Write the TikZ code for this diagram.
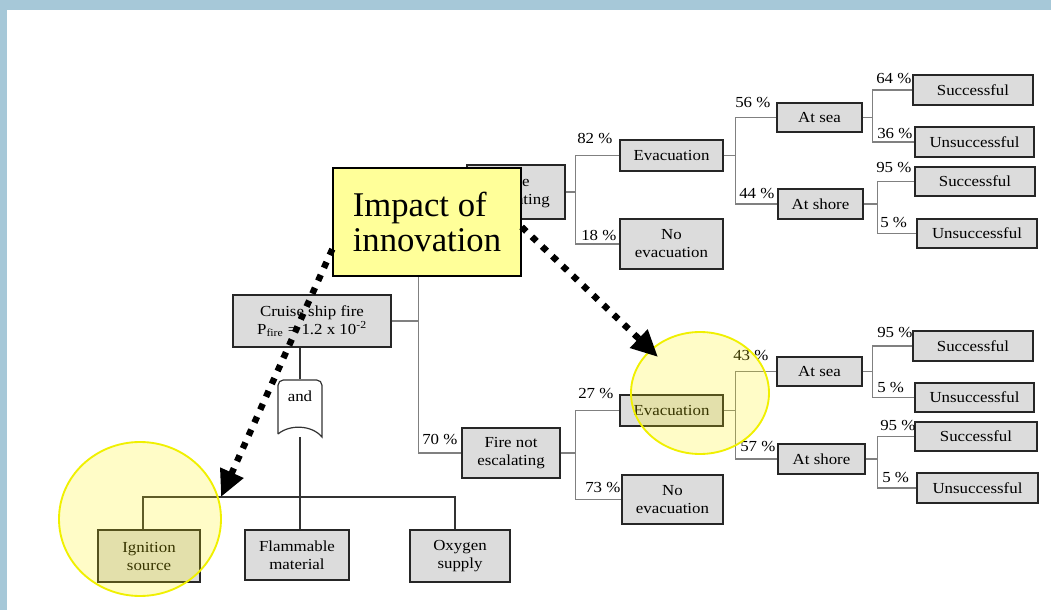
\documentclass[tikz,border=0pt]{standalone}
\usepackage{fontspec}
\setmainfont{Liberation Serif}
\newfontfamily\boxfont{Liberation Serif}[FakeStretch=1.1]
\usetikzlibrary{arrows.meta}

\definecolor{framebl}{HTML}{A6C8D8}
\definecolor{boxgray}{HTML}{DCDCDC}
\definecolor{notepad}{HTML}{FFFF99}
\definecolor{hilite}{HTML}{F0F000}
\definecolor{linkgray}{HTML}{808080}

\tikzset{
  sz/.style 2 args={minimum width={(#1)*0.75pt}, minimum height={(#2)*0.75pt}},
  box/.style={draw=black!85, line width=1.1pt, fill=boxgray, inner sep=0pt,
    align=center, font=\boxfont\fontsize{11.5}{13.5}\selectfont},
  pct/.style={anchor=base west, inner sep=0pt, font=\boxfont\fontsize{11.5}{13.5}\selectfont},
  link/.style={draw=linkgray, line width=0.9pt},
  gateline/.style={draw=black!80, line width=0.9pt},
  note/.style={draw=black, line width=1pt, fill=notepad, inner sep=0pt, align=left,
    font=\fontsize{26}{26.3}\selectfont},
  hl/.style={draw=hilite, line width=1.4pt, fill=yellow, fill opacity=0.22},
  pointer/.style={draw=black, line width=4.8pt, dash pattern=on 4.8pt off 5.8pt,
    -{Triangle[length=20pt,width=18pt]}}
}

\begin{document}
\begin{tikzpicture}[x=0.75pt,y=-0.75pt]
\useasboundingbox (0,0) rectangle (1051,610);
% page and frame
\fill[white] (0,0) rectangle (1051,610);
\fill[framebl] (0,0) rectangle (1051,10);
\fill[framebl] (0,0) rectangle (7,610);

% ---- event boxes ----
\node[box, sz={98}{54}]  (fesc) at (516,192) {Fire\\escalating};
\node[box, sz={98}{50}]  (fnot) at (511,453) {Fire not\\escalating};
\node[box, sz={158}{52}] (csf)  at (312,321) {Cruise ship fire\\P\textsubscript{fire} = 1.2 x 10\textsuperscript{-2}};
\node[box, sz={102}{52}] (ign)  at (149,556) {Ignition\\source};
\node[box, sz={104}{50}] (flam) at (297,555) {Flammable\\material};
\node[box, sz={100}{52}] (oxy)  at (460,556) {Oxygen\\supply};

% escalating branch
\node[box, sz={103}{31}] (ev1)    at (671.5,155.5) {Evacuation};
\node[box, sz={103}{50}] (noev1)  at (671.5,244)   {No\\evacuation};
\node[box, sz={85}{29}]  (sea1)   at (819.5,117.5) {At sea};
\node[box, sz={85}{30}]  (shore1) at (820.5,204)   {At shore};
\node[box, sz={120}{30}] (s11)    at (973,90)      {Successful};
\node[box, sz={119}{30}] (u11)    at (974.5,142)   {Unsuccessful};
\node[box, sz={120}{29}] (s12)    at (975,181.5)   {Successful};
\node[box, sz={120}{29}] (u12)    at (977,233.5)   {Unsuccessful};

% non-escalating branch
\node[box, sz={103}{31}] (ev2)    at (671.5,410.5) {Evacuation};
\node[box, sz={101}{49}] (noev2)  at (672.5,499.5) {No\\evacuation};
\node[box, sz={85}{29}]  (sea2)   at (819.5,371.5) {At sea};
\node[box, sz={87}{30}]  (shore2) at (821.5,459)   {At shore};
\node[box, sz={120}{30}] (s21)    at (973,346)     {Successful};
\node[box, sz={119}{29}] (u21)    at (974.5,397.5) {Unsuccessful};
\node[box, sz={122}{29}] (s22)    at (976,436.5)   {Successful};
\node[box, sz={121}{30}] (u22)    at (977.5,488)   {Unsuccessful};

% ---- event tree connectors ----
\draw[link] (csf.east) -- ++(27,0) coordinate (j0) |- (fesc.west);
\draw[link] (j0) |- (fnot.west);

\draw[link] (fesc.east) -- ++(10,0) coordinate (j1) |- (ev1.west);
\draw[link] (j1) |- (noev1.west);
\draw[link] (ev1.east) -- ++(12,0) coordinate (j2) |- (sea1.west);
\draw[link] (j2) |- (shore1.west);
\draw[link] (sea1.east) -- ++(10,0) coordinate (j3) |- (s11.west);
\draw[link] (j3) |- (u11.west);
\draw[link] (shore1.east) -- ++(14,0) coordinate (j4) |- (s12.west);
\draw[link] (j4) |- (u12.west);

\draw[link] (fnot.east) -- ++(15,0) coordinate (k1) |- (ev2.west);
\draw[link] (k1) |- (noev2.west);
\draw[link] (ev2.east) -- ++(12,0) coordinate (k2) |- (sea2.west);
\draw[link] (k2) |- (shore2.west);
\draw[link] (sea2.east) -- ++(10,0) coordinate (k3) |- (s21.west);
\draw[link] (k3) |- (u21.west);
\draw[link] (shore2.east) -- ++(12,0) coordinate (k4) |- (s22.west);
\draw[link] (k4) |- (u22.west);

% ---- fault tree: AND gate ----
\node[minimum width=33pt, minimum height=42.75pt, inner sep=0pt] (andg) at (300,408) {};
\coordinate (bar) at (300,497);
\draw[gateline] (csf.south -| andg.north) -- (andg.north);
\draw[gateline] (andg.south) -- (andg.south |- flam.north);
\draw[gateline] ([xshift=-4.5pt]ign.north) -- ([xshift=-4.5pt]ign.north |- bar)
  -- ([xshift=-3.75pt]oxy.north |- bar) -- ([xshift=-3.75pt]oxy.north);
\draw[gateline, fill=white, rounded corners=4pt] (278,434) -- (278,380) -- (322,380)
  [sharp corners] -- (322,437) .. controls (312,425) and (290,424) .. (278,434);
\node[inner sep=0pt, font=\boxfont\fontsize{11.5}{13.5}\selectfont] (andtxt) at (300,396) {and};

% ---- branch probabilities ----
\node[pct] (p1)  at (577,143) {82 \%};
\node[pct] (p2)  at (581,240) {18 \%};
\node[pct] (p3)  at (735,108) {56 \%};
\node[pct] (p4)  at (739,199) {44 \%};
\node[pct] (p5)  at (876,84)  {64 \%};
\node[pct] (p6)  at (877,139) {36 \%};
\node[pct] (p7)  at (876,173) {95 \%};
\node[pct] (p8)  at (880,228) {5 \%};
\node[pct] (p9)  at (578,398) {27 \%};
\node[pct] (p10) at (585,492) {73 \%};
\node[pct] (p11) at (733,360) {43 \%};
\node[pct] (p12) at (740,451) {57 \%};
\node[pct] (p13) at (877,337) {95 \%};
\node[pct] (p14) at (877,392) {5 \%};
\node[pct] (p15) at (880,430) {95 \%};
\node[pct] (p16) at (882,482) {5 \%};
\node[pct] (p17) at (422,444) {70 \%};

% ---- innovation call-out ----
\node[note, sz={188}{108}] (imp) at (427,222) {Impact of\\innovation};

% highlighted elements
\draw[hl] (700,393) ellipse [x radius=69, y radius=61];
\draw[hl] (140,519) ellipse [x radius=81, y radius=77];

\coordinate (ignmark) at (221,497);
\coordinate (evmark) at (658,357);
\draw[pointer] (imp.196.6) -- (ignmark);
\draw[pointer] (imp.357.6) -- (evmark);
\end{tikzpicture}
\end{document}
